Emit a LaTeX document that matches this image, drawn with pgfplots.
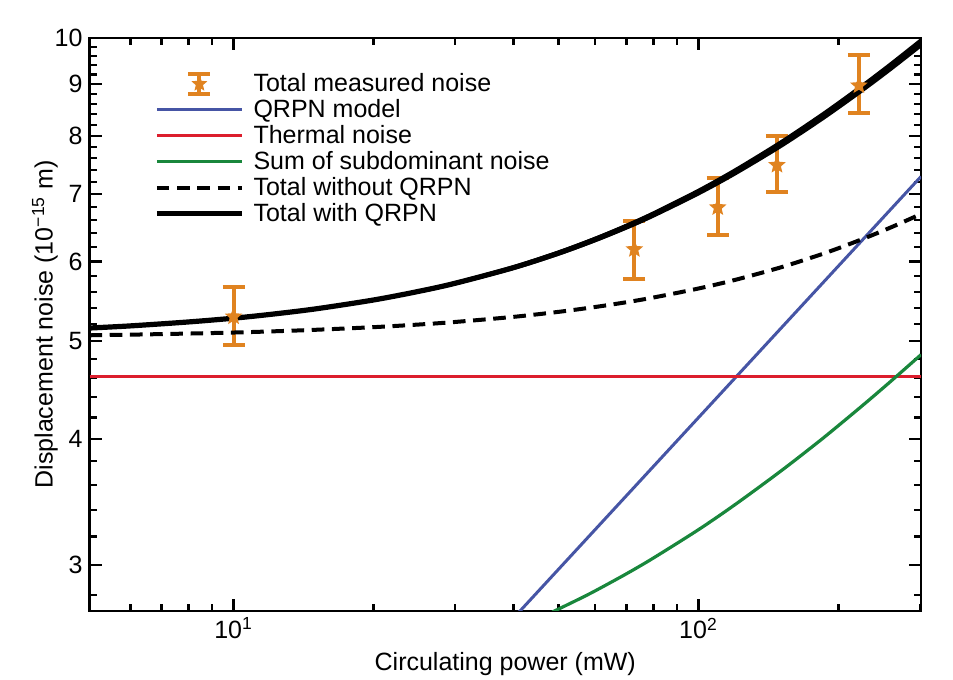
\documentclass[border=0pt]{standalone}
\usepackage{fontspec}
\setmainfont{Liberation Sans}
\usepackage{pgfplots}
\pgfplotsset{compat=1.18}
\definecolor{qorange}{RGB}{224,131,32}
\definecolor{qblue}{RGB}{70,85,165}
\definecolor{qred}{RGB}{220,30,45}
\definecolor{qgreen}{RGB}{25,135,60}
\pgfdeclareplotmark{fstar}{%
  \pgfpathmoveto{\pgfpointpolar{90}{\pgfplotmarksize}}%
  \pgfpathlineto{\pgfpointpolar{126}{0.45\pgfplotmarksize}}%
  \pgfpathlineto{\pgfpointpolar{162}{\pgfplotmarksize}}%
  \pgfpathlineto{\pgfpointpolar{198}{0.45\pgfplotmarksize}}%
  \pgfpathlineto{\pgfpointpolar{234}{\pgfplotmarksize}}%
  \pgfpathlineto{\pgfpointpolar{270}{0.45\pgfplotmarksize}}%
  \pgfpathlineto{\pgfpointpolar{306}{\pgfplotmarksize}}%
  \pgfpathlineto{\pgfpointpolar{342}{0.45\pgfplotmarksize}}%
  \pgfpathlineto{\pgfpointpolar{18}{\pgfplotmarksize}}%
  \pgfpathlineto{\pgfpointpolar{54}{0.45\pgfplotmarksize}}%
  \pgfpathclose
  \pgfusepathqfill}
\begin{document}
\begin{tikzpicture}
\begin{axis}[
  scale only axis,
  width=415.6pt, height=286.35pt,
  xmode=log, ymode=log,
  xmin=4.9, xmax=301, ymin=2.7, ymax=10,
  axis line style={line width=1.2pt},
  every tick/.style={black, line width=1.1pt},
  major tick length=6pt, minor tick length=3.5pt,
  xtick={10,100}, xticklabels={10\textsuperscript{1},10\textsuperscript{2}},
  minor xtick={6,7,8,9,20,30,40,50,60,70,80,90,200,300},
  ytick={3,4,5,6,7,8,9,10}, yticklabels={3,4,5,6,7,8,9,10},
  minor ytick={2.8,3.2,3.4,3.6,3.8,4.2,4.4,4.6,4.8,5.2,5.4,5.6,5.8,6.2,6.4,6.6,6.8,7.2,7.4,7.6,7.8,8.2,8.4,8.6,8.8,9.2,9.4,9.6,9.8},
  /pgf/number format/assume math mode=true,
  tick label style={font=\fontsize{12.5}{14}\selectfont},
  label style={font=\fontsize{12.5}{15}\selectfont},
  xlabel={Circulating power (mW)},
  ylabel={Displacement noise (10\textsuperscript{−15} m)},
  ylabel style={yshift=-8.5pt},
  legend style={draw=none, fill=none, at={(0.0774,0.946)}, anchor=north west,
    font=\fontsize{12.5}{13}\selectfont, row sep=-1.6pt, inner sep=0pt,
    legend cell align=left},
  legend image code/.code={\draw[#1] (0pt,0pt) -- (42.5pt,0pt); \path (45pt,0pt);},
]
% measured
\addplot[qorange, only marks, mark=fstar, mark size=4.6pt,
  legend image code/.code={%
    \path (0pt,0pt) (45pt,0pt);
    \draw[qorange, line width=2pt] (21.25pt,-5pt) -- (21.25pt,5pt)
      (15.75pt,5pt) -- (26.75pt,5pt) (15.75pt,-5pt) -- (26.75pt,-5pt);
    \draw[qorange, mark=fstar, mark size=4.2pt] plot coordinates {(21.25pt,0pt)};},
  error bars/.cd, y dir=both, y explicit,
  error bar style={qorange, line width=2pt},
  error mark options={qorange, line width=2pt, mark size=5.5pt, rotate=90},
  ]
  table[x=x, y=y, y error plus=ep, y error minus=em] {
  x y ep em
  10 5.29 0.37 0.33
  72.8 6.17 0.41 0.40
  110 6.79 0.47 0.42
  147.5 7.48 0.52 0.45
  221.3 8.97 0.65 0.54
};
\addlegendentry{Total measured noise}
\addplot[qblue, line width=1.5pt] coordinates {(40,2.656) (100,4.2) (301,7.287)};
\addlegendentry{QRPN model}
\addplot[qred, line width=1.6pt] coordinates {(4.9,4.61) (301,4.61)};
\addlegendentry{Thermal noise}
\addplot[qgreen, line width=1.6pt, smooth] coordinates {
(48.5,2.693) (55,2.770) (60,2.827) (70,2.939) (80,3.047) (100,3.251) (120,3.444)
(150,3.714) (180,3.965) (200,4.124) (230,4.352) (260,4.569) (301,4.849)};
\addlegendentry{Sum of subdominant noise}
\addplot[black, line width=2pt, dash pattern=on 6.3pt off 3.8pt, smooth] coordinates {
(4.9,5.069) (6,5.076) (8,5.089) (10,5.101) (12,5.114) (15,5.133) (20,5.164) (25,5.195)
(30,5.226) (40,5.287) (50,5.348) (60,5.408) (70,5.467) (80,5.526) (100,5.641)
(120,5.754) (150,5.919) (180,6.080) (200,6.185) (230,6.340) (260,6.490) (290,6.637) (301,6.691)};
\addlegendentry{Total without QRPN}
\addplot[black, line width=2.6pt, smooth] coordinates {
(4.9,5.154) (6,5.179) (8,5.226) (10,5.271) (12,5.317) (15,5.384) (20,5.495) (25,5.604)
(30,5.710) (40,5.917) (50,6.117) (60,6.311) (70,6.499) (80,6.682) (100,7.033)
(120,7.367) (150,7.842) (180,8.290) (200,8.576) (230,8.987) (260,9.380) (301,9.892)};
\addlegendentry{Total with QRPN}
\addplot[black, line width=1.1pt, smooth, forget plot] coordinates {
(4.9,5.156) (6,5.182) (8,5.230) (10,5.276) (12,5.323) (15,5.392) (20,5.505) (25,5.615)
(30,5.724) (40,5.935) (50,6.139) (60,6.336) (70,6.527) (80,6.713) (100,7.070)
(120,7.410) (150,7.893) (180,8.347) (200,8.637) (230,9.054) (260,9.453) (301,9.973)};
\addplot[black, line width=1.1pt, smooth, forget plot] coordinates {
(4.9,5.151) (6,5.176) (8,5.221) (10,5.266) (12,5.311) (15,5.377) (20,5.485) (25,5.592)
(30,5.696) (40,5.899) (50,6.096) (60,6.286) (70,6.470) (80,6.650) (100,6.995)
(120,7.324) (150,7.791) (180,8.232) (200,8.514) (230,8.919) (260,9.307) (301,9.812)};
\end{axis}
\pgfresetboundingbox
\path[use as bounding box] (-44.75pt,-34.5pt) rectangle (431.6pt,305.35pt);
\end{tikzpicture}
\end{document}
